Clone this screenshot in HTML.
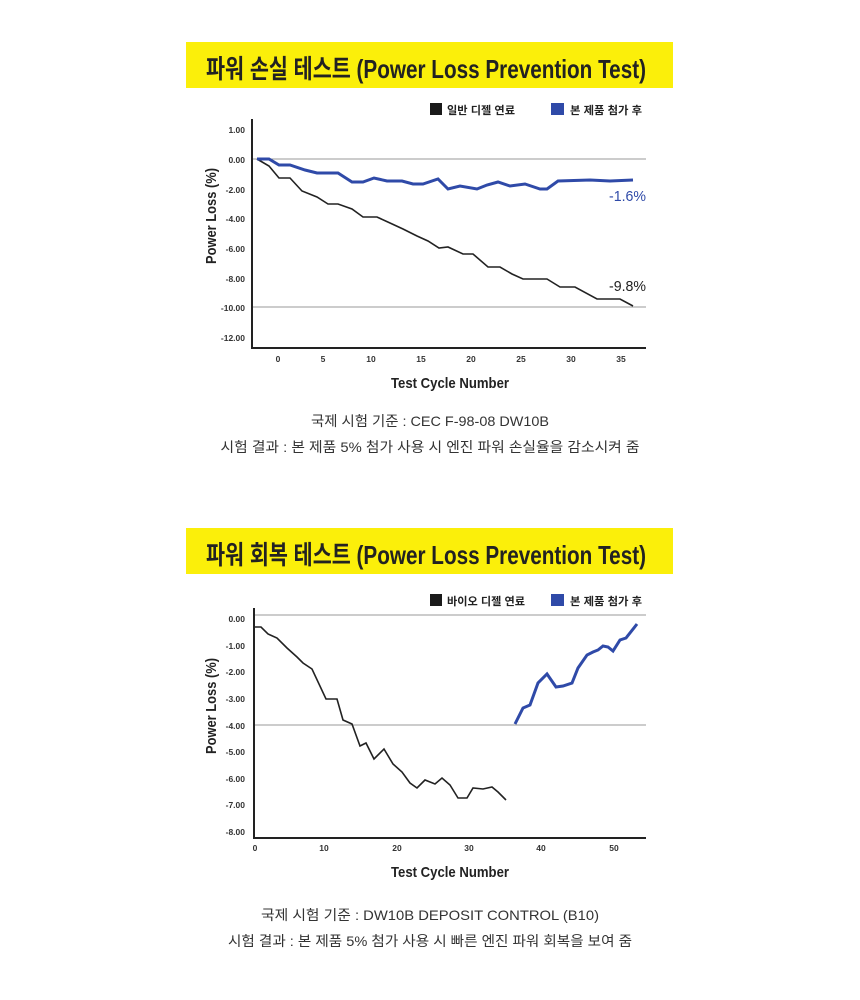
<!DOCTYPE html>
<html><head><meta charset="utf-8"><style>
html,body{margin:0;padding:0;background:#fff;}
svg{display:block;}
text{font-family:"Liberation Sans","Noto Sans CJK KR",sans-serif;}
</style></head><body>
<svg width="860" height="1000" viewBox="0 0 860 1000" xmlns="http://www.w3.org/2000/svg">
<!-- Chart 1 -->
<rect x="186" y="42" width="487" height="46" fill="#fbef0a"/>
<text x="206" y="78" font-size="26" font-weight="bold" fill="#222" textLength="440" lengthAdjust="spacingAndGlyphs">파워 손실 테스트 (Power Loss Prevention Test)</text>

<rect x="430" y="103" width="12" height="12" fill="#1a1a1a"/>
<text x="447" y="114" font-size="11" font-weight="bold" fill="#222" textLength="68" lengthAdjust="spacingAndGlyphs">일반 디젤 연료</text>
<rect x="551" y="103" width="13" height="12" fill="#2f4aa8"/>
<text x="570" y="114" font-size="11" font-weight="bold" fill="#222" textLength="72" lengthAdjust="spacingAndGlyphs">본 제품 첨가 후</text>

<line x1="252" y1="159" x2="646" y2="159" stroke="#999" stroke-width="1"/>
<line x1="252" y1="307" x2="646" y2="307" stroke="#999" stroke-width="1"/>
<line x1="252" y1="119" x2="252" y2="349" stroke="#222" stroke-width="2"/>
<line x1="251" y1="348" x2="646" y2="348" stroke="#222" stroke-width="2"/>

<g font-size="8.5" font-weight="bold" fill="#333" text-anchor="end">
<text x="245" y="133">1.00</text><text x="245" y="163">0.00</text><text x="245" y="193">-2.00</text>
<text x="245" y="222">-4.00</text><text x="245" y="252">-6.00</text><text x="245" y="282">-8.00</text>
<text x="245" y="311">-10.00</text><text x="245" y="341">-12.00</text>
</g>
<g font-size="8.5" font-weight="bold" fill="#333" text-anchor="middle">
<text x="278" y="362">0</text><text x="323" y="362">5</text><text x="371" y="362">10</text><text x="421" y="362">15</text>
<text x="471" y="362">20</text><text x="521" y="362">25</text><text x="571" y="362">30</text><text x="621" y="362">35</text>
</g>
<text x="450" y="388" font-size="15" font-weight="bold" fill="#222" text-anchor="middle" textLength="118" lengthAdjust="spacingAndGlyphs">Test Cycle Number</text>
<text transform="translate(216,216) rotate(-90)" font-size="15" font-weight="bold" fill="#222" text-anchor="middle" textLength="96" lengthAdjust="spacingAndGlyphs">Power Loss (%)</text>

<polyline fill="none" stroke="#222" stroke-width="1.6" points="257,159 269,166 279,178 290,178 302,191 317,197 328,204 338,204 352,209 363,217 377,217 390,223 403,229 417,236 428,241 439,248 448,247 463,254 473,254 488,267 500,267 512,274 523,279 547,279 560,287 575,287 597,299 620,299 633,306"/>
<polyline fill="none" stroke="#2f4aa8" stroke-width="3" points="257,159 269,159 279,165 290,165 305,170 317,173 338,173 352,182 363,182 374,178 387,181 402,181 413,184 423,184 438,179 448,189 460,186 477,189 487,185 498,182 510,186 525,184 540,189 547,189 558,181 590,180 610,181 633,180"/>
<text x="609" y="201" font-size="15" fill="#2f4aa8" textLength="37" lengthAdjust="spacingAndGlyphs">-1.6%</text>
<text x="609" y="291" font-size="15" fill="#222" textLength="37" lengthAdjust="spacingAndGlyphs">-9.8%</text>

<text x="430" y="426" font-size="14" fill="#333" text-anchor="middle" textLength="238" lengthAdjust="spacingAndGlyphs">국제 시험 기준 : CEC F-98-08 DW10B</text>
<text x="430" y="452" font-size="14" fill="#333" text-anchor="middle" textLength="419" lengthAdjust="spacingAndGlyphs">시험 결과 : 본 제품 5% 첨가 사용 시 엔진 파워 손실율을 감소시켜 줌</text>

<!-- Chart 2 -->
<rect x="186" y="528" width="487" height="46" fill="#fbef0a"/>
<text x="206" y="564" font-size="26" font-weight="bold" fill="#222" textLength="440" lengthAdjust="spacingAndGlyphs">파워 회복 테스트 (Power Loss Prevention Test)</text>

<rect x="430" y="594" width="12" height="12" fill="#1a1a1a"/>
<text x="447" y="605" font-size="11" font-weight="bold" fill="#222" textLength="78" lengthAdjust="spacingAndGlyphs">바이오 디젤 연료</text>
<rect x="551" y="594" width="13" height="12" fill="#2f4aa8"/>
<text x="570" y="605" font-size="11" font-weight="bold" fill="#222" textLength="72" lengthAdjust="spacingAndGlyphs">본 제품 첨가 후</text>

<line x1="254" y1="615" x2="646" y2="615" stroke="#999" stroke-width="1"/>
<line x1="254" y1="725" x2="646" y2="725" stroke="#999" stroke-width="1"/>
<line x1="254" y1="608" x2="254" y2="839" stroke="#222" stroke-width="2"/>
<line x1="253" y1="838" x2="646" y2="838" stroke="#222" stroke-width="2"/>

<g font-size="8.5" font-weight="bold" fill="#333" text-anchor="end">
<text x="245" y="622">0.00</text><text x="245" y="649">-1.00</text><text x="245" y="675">-2.00</text>
<text x="245" y="702">-3.00</text><text x="245" y="729">-4.00</text><text x="245" y="755">-5.00</text>
<text x="245" y="782">-6.00</text><text x="245" y="808">-7.00</text><text x="245" y="835">-8.00</text>
</g>
<g font-size="8.5" font-weight="bold" fill="#333" text-anchor="middle">
<text x="255" y="851">0</text><text x="324" y="851">10</text><text x="397" y="851">20</text>
<text x="469" y="851">30</text><text x="541" y="851">40</text><text x="614" y="851">50</text>
</g>
<text x="450" y="877" font-size="15" font-weight="bold" fill="#222" text-anchor="middle" textLength="118" lengthAdjust="spacingAndGlyphs">Test Cycle Number</text>
<text transform="translate(216,706) rotate(-90)" font-size="15" font-weight="bold" fill="#222" text-anchor="middle" textLength="96" lengthAdjust="spacingAndGlyphs">Power Loss (%)</text>

<polyline fill="none" stroke="#222" stroke-width="1.6" points="254,627 261,627 268,634 277,638 287,648 297,657 303,663 312,669 326,699 337,699 343,720 352,724 360,746 366,743 374,759 384,749 393,764 402,772 410,783 417,788 425,780 435,784 442,778 450,785 458,798 467,798 473,788 483,789 492,787 498,792 506,800"/>
<polyline fill="none" stroke="#2f4aa8" stroke-width="3" points="515,724 523,708 530,705 538,683 547,674 556,687 563,686 572,683 578,668 587,655 593,652 598,650 603,646 608,647 613,651 620,640 626,638 637,624"/>

<text x="430" y="920" font-size="14" fill="#333" text-anchor="middle" textLength="338" lengthAdjust="spacingAndGlyphs">국제 시험 기준 : DW10B DEPOSIT CONTROL (B10)</text>
<text x="430" y="946" font-size="14" fill="#333" text-anchor="middle" textLength="404" lengthAdjust="spacingAndGlyphs">시험 결과 : 본 제품 5% 첨가 사용 시 빠른 엔진 파워 회복을 보여 줌</text>
</svg>
</body></html>
